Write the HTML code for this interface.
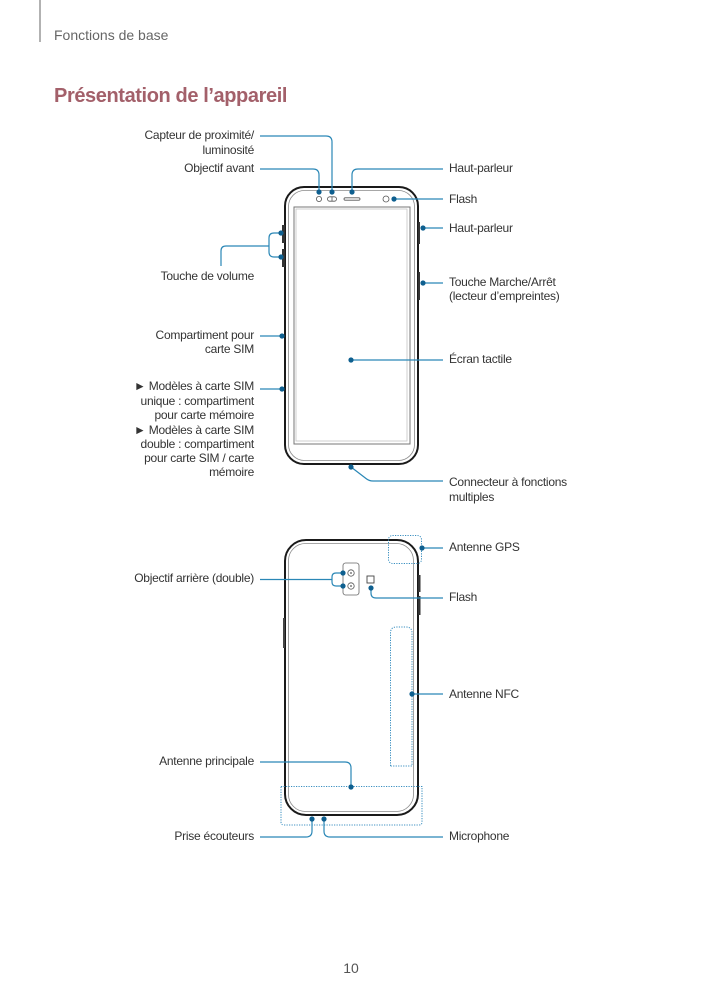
<!DOCTYPE html>
<html><head><meta charset="utf-8">
<style>
html,body{margin:0;padding:0;background:#fff;}
body{width:703px;height:994px;overflow:hidden;}
svg{display:block;}
.lb{font-family:"Liberation Sans",sans-serif;font-size:12px;fill:#333;letter-spacing:-0.25px;}
.ld{fill:none;stroke:#2a87b6;stroke-width:1.2;}
.dt{fill:#0e5f8f;}
</style></head>
<body>
<svg width="703" height="994" viewBox="0 0 703 994" xmlns="http://www.w3.org/2000/svg">
<!-- header -->
<line x1="40" y1="0" x2="40" y2="42" stroke="#999" stroke-width="1.5"/>
<text x="54" y="40" font-family="Liberation Sans, sans-serif" font-size="14" fill="#666">Fonctions de base</text>
<text x="54" y="102" font-family="Liberation Sans, sans-serif" font-size="20" font-weight="bold" fill="#a3606a" letter-spacing="-0.4">Présentation de l’appareil</text>

<!-- FRONT PHONE -->
<rect x="285" y="187" width="133" height="277" rx="19" fill="#fff" stroke="#1a1a1a" stroke-width="2"/>
<rect x="288.5" y="190.5" width="126" height="270" rx="16" fill="none" stroke="#8a8a8a" stroke-width="0.8"/>
<rect x="294" y="207" width="116" height="237" fill="none" stroke="#777" stroke-width="1"/>
<rect x="296" y="209" width="111" height="232" fill="none" stroke="#c4c4c4" stroke-width="0.8"/>
<!-- front buttons -->
<rect x="282" y="225" width="3" height="18" fill="#333"/>
<rect x="282" y="249" width="3" height="18" fill="#333"/>
<rect x="418" y="222" width="2" height="22" fill="#333"/>
<rect x="418" y="272" width="2" height="28" fill="#333"/>
<!-- front sensors -->
<circle cx="319" cy="199" r="2.6" fill="none" stroke="#555" stroke-width="0.8"/>
<rect x="327.5" y="196.8" width="9" height="4.4" rx="2.2" fill="none" stroke="#555" stroke-width="0.8"/>
<line x1="332" y1="196.8" x2="332" y2="201.2" stroke="#555" stroke-width="0.8"/>
<rect x="344" y="197.8" width="16" height="2.4" rx="1.2" fill="none" stroke="#555" stroke-width="0.8"/>
<circle cx="386" cy="199" r="3" fill="none" stroke="#555" stroke-width="0.8"/>

<!-- BACK PHONE -->
<rect x="285" y="540" width="133" height="275" rx="21" fill="#fff" stroke="#1a1a1a" stroke-width="2"/>
<rect x="288.5" y="543.5" width="125" height="268" rx="17" fill="none" stroke="#8a8a8a" stroke-width="0.8"/>
<rect x="418" y="575" width="2.5" height="17" fill="#333"/>
<rect x="418" y="596" width="2.5" height="19" fill="#333"/>
<rect x="283" y="618" width="2" height="30" fill="#444"/>
<!-- camera module -->
<rect x="343" y="563" width="16" height="32" rx="2.5" fill="none" stroke="#666" stroke-width="0.8"/>
<circle cx="351" cy="573" r="3.2" fill="none" stroke="#555" stroke-width="0.8"/>
<circle cx="351" cy="573" r="0.9" fill="#555"/>
<circle cx="351" cy="586" r="3.2" fill="none" stroke="#555" stroke-width="0.8"/>
<circle cx="351" cy="586" r="0.9" fill="#555"/>
<rect x="367" y="576" width="7" height="7" fill="none" stroke="#444" stroke-width="0.9"/>
<!-- dotted antenna areas -->
<rect x="388.5" y="535.5" width="33" height="28" rx="4" fill="none" stroke="#3a8fc0" stroke-width="1" stroke-dasharray="1.2 1.3"/>
<path d="M390.5,766 V633 Q390.5,627 396.5,627 H406 Q412,627 412,633 V766 Z" fill="none" stroke="#3a8fc0" stroke-width="1" stroke-dasharray="1.2 1.3"/>
<path d="M281,786.5 H422 V822 Q422,825 419,825 H284 Q281,825 281,822 Z" fill="none" stroke="#3a8fc0" stroke-width="1" stroke-dasharray="1.2 1.3"/>

<!-- LEADERS -->
<path class="ld" d="M260,136 H326 Q332,136 332,142 V192"/>
<path class="ld" d="M260,169 H313 Q319,169 319,175 V192"/>
<path class="ld" d="M443,169 H358 Q352,169 352,175 V192"/>
<path class="ld" d="M394,199 H443"/>
<path class="ld" d="M423,228 H443"/>
<path class="ld" d="M423,283 H443"/>
<path class="ld" d="M221,266 V251 Q221,246 226,246 H269"/>
<path class="ld" d="M281,233 H274 Q269,233 269,238 V252 Q269,257 274,257 H281"/>
<path class="ld" d="M260,336 H282"/>
<path class="ld" d="M260,389 H282"/>
<path class="ld" d="M351,360 H443"/>
<path class="ld" d="M351,467 L366,478.5 Q369,481 373,481 H443"/>
<path class="ld" d="M422,548 H443"/>
<path class="ld" d="M260,579.5 H332"/>
<path class="ld" d="M343,573 H336 Q332,573 332,577 V582 Q332,586 336,586 H343"/>
<path class="ld" d="M371,588 V593 Q371,598 376,598 H443"/>
<path class="ld" d="M412,694 H443"/>
<path class="ld" d="M260,762 H345 Q351,762 351,768 V787"/>
<path class="ld" d="M260,837 H306 Q312,837 312,831 V819"/>
<path class="ld" d="M324,819 V831 Q324,837 330,837 H443"/>

<!-- DOTS -->
<g class="dt">
<circle cx="332" cy="192" r="2.6"/>
<circle cx="319" cy="192" r="2.6"/>
<circle cx="352" cy="192" r="2.6"/>
<circle cx="394" cy="199" r="2.6"/>
<circle cx="423" cy="228" r="2.6"/>
<circle cx="423" cy="283" r="2.6"/>
<circle cx="281" cy="233" r="2.6"/>
<circle cx="281" cy="257" r="2.6"/>
<circle cx="282" cy="336" r="2.6"/>
<circle cx="282" cy="389" r="2.6"/>
<circle cx="351" cy="360" r="2.6"/>
<circle cx="351" cy="467" r="2.6"/>
<circle cx="422" cy="548" r="2.6"/>
<circle cx="343" cy="573" r="2.6"/>
<circle cx="343" cy="586" r="2.6"/>
<circle cx="371" cy="588" r="2.6"/>
<circle cx="412" cy="694" r="2.6"/>
<circle cx="351" cy="787" r="2.6"/>
<circle cx="312" cy="819" r="2.6"/>
<circle cx="324" cy="819" r="2.6"/>
</g>

<!-- RIGHT LABELS -->
<g class="lb">
<text x="449" y="172">Haut-parleur</text>
<text x="449" y="203">Flash</text>
<text x="449" y="232">Haut-parleur</text>
<text x="449" y="286">Touche Marche/Arrêt</text>
<text x="449" y="300">(lecteur d’empreintes)</text>
<text x="449" y="363">Écran tactile</text>
<text x="449" y="486">Connecteur à fonctions</text>
<text x="449" y="501">multiples</text>
<text x="449" y="551">Antenne GPS</text>
<text x="449" y="601">Flash</text>
<text x="449" y="698">Antenne NFC</text>
<text x="449" y="840">Microphone</text>
</g>

<!-- LEFT LABELS -->
<g class="lb" text-anchor="end">
<text x="254" y="139">Capteur de proximité/</text>
<text x="254" y="154">luminosité</text>
<text x="254" y="172">Objectif avant</text>
<text x="254" y="280">Touche de volume</text>
<text x="254" y="339">Compartiment pour</text>
<text x="254" y="353">carte SIM</text>
<text x="254" y="390">► Modèles à carte SIM</text>
<text x="254" y="405">unique : compartiment</text>
<text x="254" y="419">pour carte mémoire</text>
<text x="254" y="434">► Modèles à carte SIM</text>
<text x="254" y="448">double : compartiment</text>
<text x="254" y="462">pour carte SIM / carte</text>
<text x="254" y="476">mémoire</text>
<text x="254" y="582">Objectif arrière (double)</text>
<text x="254" y="765">Antenne principale</text>
<text x="254" y="840">Prise écouteurs</text>
</g>

<!-- page number -->
<text x="351" y="973" text-anchor="middle" font-family="Liberation Sans, sans-serif" font-size="14" fill="#555">10</text>
</svg>
</body></html>
